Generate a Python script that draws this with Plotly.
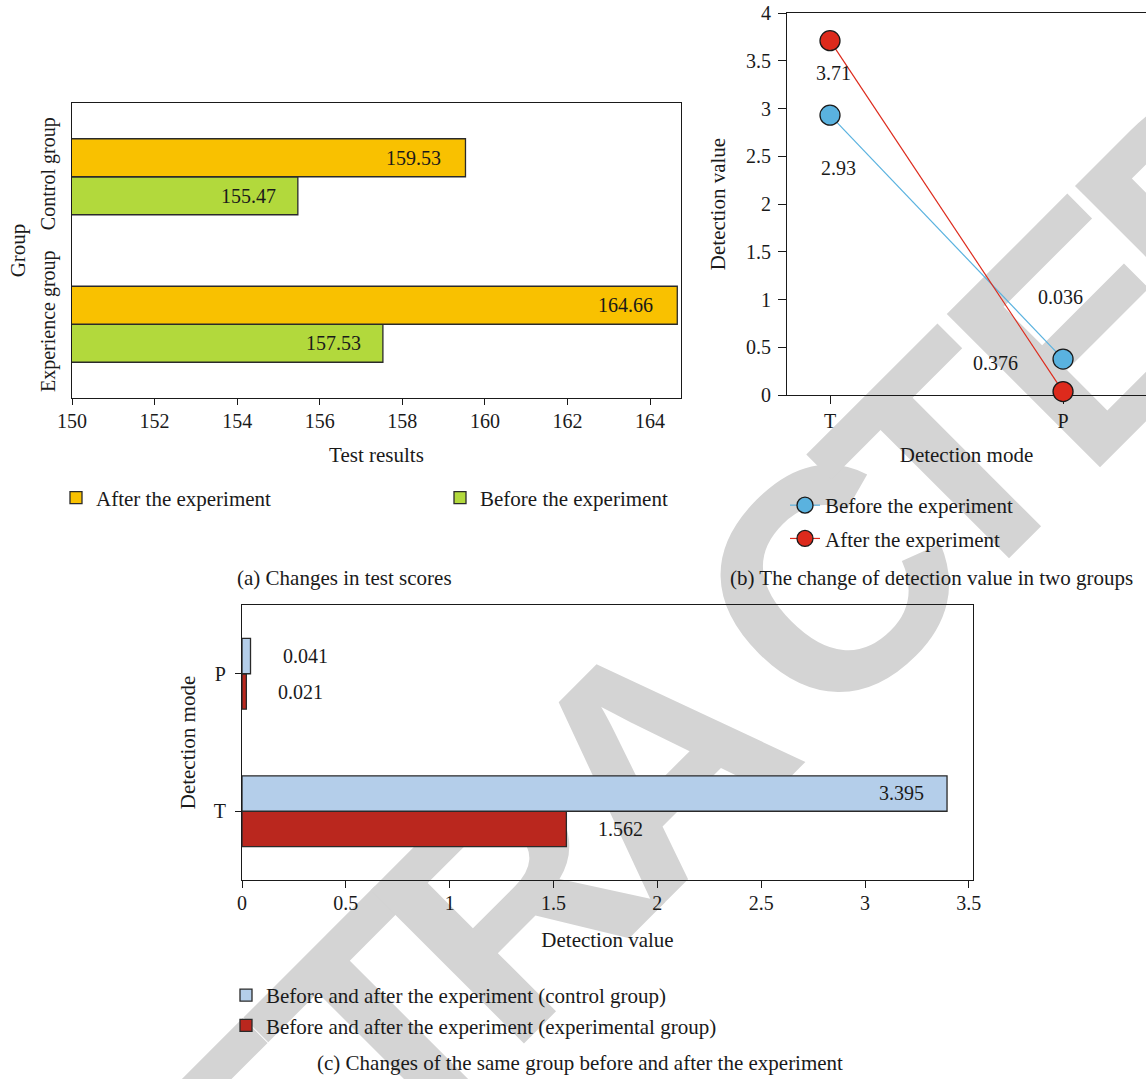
import math
import plotly.graph_objects as go

# ---------------- data ----------------
# (a) test scores
groups_a = ["Experience group", "Control group"]
before_scores = [157.53, 155.47]
after_scores = [164.66, 159.53]

# (b) detection value by mode, two time points
modes_b = ["T", "P"]
before_detect = [2.93, 0.376]
after_detect = [3.71, 0.036]

# (c) same-group change by detection mode
modes_c = ["T", "P"]
control_change = [3.395, 0.041]
experimental_change = [1.562, 0.021]

W, H = 1146, 1079
SERIF = "Liberation Serif"
BLACK = "#1a1a1a"

ORANGE = "#F9C100"
GREEN = "#B2D93C"
LBLUE = "#B4CEEA"
DRED = "#BA271E"
MBLUE = "#5AB2DF"
MRED = "#DD2A1C"

TICK = dict(family=SERIF, size=20, color=BLACK)
TXT = dict(family=SERIF, size=21, color=BLACK)
LBL = dict(family=SERIF, size=20, color=BLACK)


def px_x(p):
    return p / W


def px_y(p):
    return 1 - p / H


fig = go.Figure()

# ---- (a) horizontal grouped bars ----
fig.add_trace(go.Bar(
    y=groups_a, x=before_scores, orientation="h", name="Before the experiment",
    marker=dict(color=GREEN, line=dict(color="#2a2a2a", width=1.3)),
    xaxis="x", yaxis="y", legend="legend", legendrank=2))
fig.add_trace(go.Bar(
    y=groups_a, x=after_scores, orientation="h", name="After the experiment",
    marker=dict(color=ORANGE, line=dict(color="#2a2a2a", width=1.3)),
    xaxis="x", yaxis="y", legend="legend", legendrank=1))

# ---- (b) lines with markers ----
fig.add_trace(go.Scatter(
    x=modes_b, y=before_detect, mode="lines+markers", name="Before the experiment",
    line=dict(color=MBLUE, width=1.2),
    marker=dict(size=20, color=MBLUE, line=dict(color=BLACK, width=1.3)),
    cliponaxis=False, xaxis="x2", yaxis="y2", legend="legend2",
    legendgroup="b1", legendrank=1))
fig.add_trace(go.Scatter(
    x=modes_b, y=after_detect, mode="lines+markers", name="After the experiment",
    line=dict(color=MRED, width=1.2),
    marker=dict(size=20, color=MRED, line=dict(color=BLACK, width=1.3)),
    cliponaxis=False, xaxis="x2", yaxis="y2", legend="legend2",
    legendgroup="b2", legendrank=2))

# ---- (c) horizontal grouped bars ----
fig.add_trace(go.Bar(
    y=modes_c, x=experimental_change, orientation="h",
    name="Before and after the experiment (experimental group)",
    marker=dict(color=DRED, line=dict(color="#2a2a2a", width=1.3)),
    xaxis="x3", yaxis="y3", legend="legend3", legendgroup="c2", legendrank=2))
fig.add_trace(go.Bar(
    y=modes_c, x=control_change, orientation="h",
    name="Before and after the experiment (control group)",
    marker=dict(color=LBLUE, line=dict(color="#2a2a2a", width=1.3)),
    xaxis="x3", yaxis="y3", legend="legend3", legendgroup="c1", legendrank=1))

annotations = []

# value labels for (a): inside the bar end
for g, v in zip(groups_a, after_scores):
    annotations.append(dict(x=v, y=g, xref="x", yref="y", text=f"{v:.2f}",
                            showarrow=False, xanchor="right", xshift=-22, yshift=19, font=LBL))
for g, v in zip(groups_a, before_scores):
    annotations.append(dict(x=v, y=g, xref="x", yref="y", text=f"{v:.2f}",
                            showarrow=False, xanchor="right", xshift=-20, yshift=-19, font=LBL))

# value labels for (b)
b_offsets = {("before", "T"): (8, -53), ("before", "P"): (-68, -4),
             ("after", "T"): (3, -32), ("after", "P"): (-3, 95)}
for key, vals in (("before", before_detect), ("after", after_detect)):
    for m, v in zip(modes_b, vals):
        dx, dy = b_offsets[(key, m)]
        annotations.append(dict(x=m, y=v, xref="x2", yref="y2", text=f"{v:g}",
                                showarrow=False, xshift=dx, yshift=dy, font=LBL))

# value labels for (c)
for m, v in zip(modes_c, control_change):
    inside = v > 1
    annotations.append(dict(x=v, y=m, xref="x3", yref="y3", text=f"{v:g}",
                            showarrow=False, xanchor="right" if inside else "left",
                            xshift=-21 if inside else 30, yshift=18, font=LBL))
for m, v in zip(modes_c, experimental_change):
    annotations.append(dict(x=v, y=m, xref="x3", yref="y3", text=f"{v:g}",
                            showarrow=False, xanchor="left", xshift=30, yshift=-18, font=LBL))

# panel captions
for text, cx, cy in (("(a) Changes in test scores", 344, 578),
                     ("(b) The change of detection value in two groups", 931, 578),
                     ("(c) Changes of the same group before and after the experiment", 580, 1063)):
    annotations.append(dict(x=px_x(cx), y=px_y(cy), xref="paper", yref="paper", text=text,
                            showarrow=False, xanchor="center", yanchor="middle", font=TXT))

axis_common = dict(showline=True, linecolor=BLACK, linewidth=1.2, ticks="outside",
                   tickcolor=BLACK, tickwidth=1.2, showgrid=False, zeroline=False,
                   automargin=False, tickfont=TICK, title_font=TXT)

legend_common = dict(bgcolor="rgba(0,0,0,0)", font=TXT)

fig.update_layout(
    width=W, height=H,
    margin=dict(l=0, r=0, t=0, b=0, autoexpand=False),
    paper_bgcolor="white", plot_bgcolor="rgba(0,0,0,0)",
    barmode="group", bargap=0.485, bargroupgap=0,
    showlegend=True,
    font=dict(family=SERIF, size=20, color=BLACK),
    xaxis=dict(domain=[px_x(72), px_x(681)], anchor="y", range=[150, 164.75],
               tickvals=list(range(150, 165, 2)), ticklen=6, mirror=True,
               ticklabelstandoff=-1,
               title=dict(text="Test results", standoff=16), **axis_common),
    yaxis=dict(domain=[px_y(398), px_y(103)], anchor="x", type="category",
               categoryorder="array", categoryarray=groups_a, range=[-0.5, 1.5],
               tickangle=-90, mirror=True, ticklabelstandoff=8,
               title=dict(text="Group", standoff=5),
               **{**axis_common, "ticks": ""}),
    xaxis2=dict(domain=[px_x(787), 1], anchor="y2", type="category",
                categoryorder="array", categoryarray=modes_b, range=[-0.1845, 1.356],
                ticklen=8, mirror=True, layer="below traces", ticklabelstandoff=0,
                title=dict(text="Detection mode", standoff=16), **axis_common),
    yaxis2=dict(domain=[px_y(395), px_y(13)], anchor="x2", range=[0, 4], dtick=0.5,
                ticklen=8, layer="below traces", ticklabelstandoff=3,
                title=dict(text="Detection value", standoff=14), **axis_common),
    xaxis3=dict(domain=[px_x(242), px_x(973)], anchor="y3", range=[0, 3.52], dtick=0.5,
                ticklen=7, mirror=True, ticklabelstandoff=-2,
                title=dict(text="Detection value", standoff=19), **axis_common),
    yaxis3=dict(domain=[px_y(880), px_y(605)], anchor="x3", type="category",
                categoryorder="array", categoryarray=modes_c, range=[-0.5, 1.5],
                ticklen=6, mirror=True, ticklabelstandoff=5,
                title=dict(text="Detection mode", standoff=12), **axis_common),
    legend=dict(orientation="h", x=px_x(56), y=px_y(498), xanchor="left", yanchor="middle",
                entrywidth=339, entrywidthmode="pixels", traceorder="normal", **legend_common),
    legend2=dict(orientation="v", x=px_x(785), y=px_y(485), xanchor="left", yanchor="top",
                 traceorder="grouped", tracegroupgap=3, **legend_common),
    legend3=dict(orientation="v", x=px_x(226), y=px_y(975), xanchor="left", yanchor="top",
                 traceorder="grouped", tracegroupgap=0, **legend_common),
    annotations=annotations,
)

# diagonal "RETRACTED" stamp, one letter per label, kept beneath the data marks
STAMP = "RETRACTED"
STAMP_SIZE = 315
anchor_x, anchor_y = 828, 580                 # centre of the letter "C"
along = [-990, -810, -630, -450, -250, 0, 166, 356, 546]   # letter centres along the baseline
ux, uy = math.cos(math.radians(45)), -math.sin(math.radians(45))
dx_, dy_ = math.cos(math.radians(45)), math.sin(math.radians(45))
drop = 0.0835 * STAMP_SIZE                    # label anchor sits this far above the cap centre
for ch, s in zip(STAMP, along):
    px = anchor_x + s * ux - drop * dx_
    py = anchor_y + s * uy - drop * dy_
    fig.add_shape(type="rect", xref="paper", yref="paper",
                  x0=px_x(px - 1), x1=px_x(px + 1), y0=px_y(py + 1), y1=px_y(py - 1),
                  layer="below", line=dict(width=0), fillcolor="rgba(0,0,0,0)",
                  label=dict(text=f"<b>{ch}</b>", textangle=-45, textposition="middle center",
                             padding=0,
                             font=dict(family="Liberation Sans", size=STAMP_SIZE, color="#d4d4d4")))

fig.write_html("out.html")
